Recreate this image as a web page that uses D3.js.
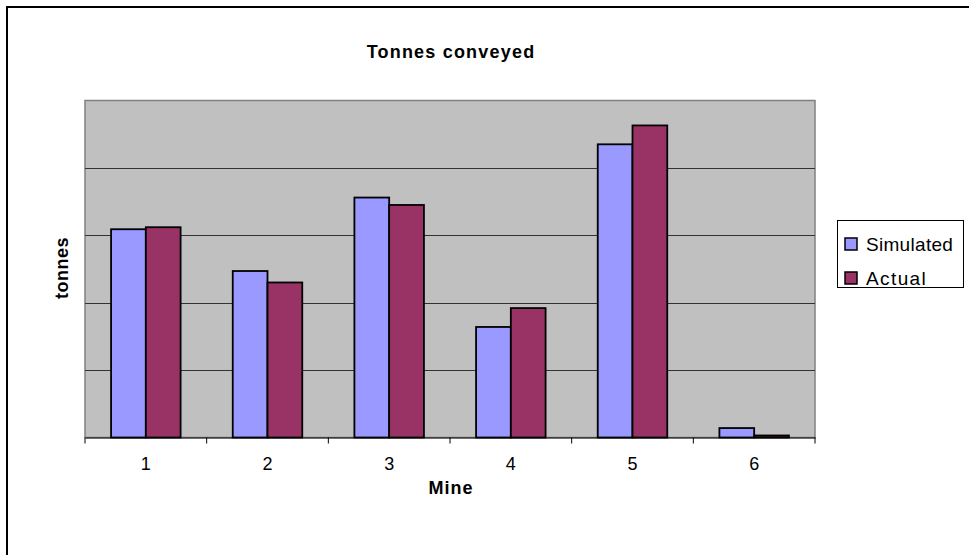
<!DOCTYPE html>
<html>
<head>
<meta charset="utf-8">
<script src="https://cdn.jsdelivr.net/npm/d3@7"></script>
<style>
  body { margin: 0; background: #fff; }
  text { font-family: "Liberation Sans", Arial, sans-serif; }
</style>
</head>
<body>
<div id="chart-area"></div>
<script>
// values (no y labels shown, so units are grid steps)
let mines = ["1", "2", "3", "4", "5", "6"];
let simulated = [3.09, 2.47, 3.56, 1.64, 4.35, 0.14];
let actual = [3.12, 2.30, 3.45, 1.92, 4.63, 0.03];
let seriesNames = ["Simulated", "Actual"];
let seriesColors = ["#9999ff", "#993366"];
let gridSteps = [0, 1, 2, 3, 4, 5];

const width = 969, height = 555;
const plot = {left: 85, top: 100.5, right: 815, bottom: 437.5};

let svg = d3.select("#chart-area").append("svg")
  .attr("width", width).attr("height", height);

// outer chart border (only top/left visible in the picture)
svg.append("rect").attr("x", 7).attr("y", 7).attr("width", 1000).attr("height", 600)
  .attr("fill", "#fff").attr("stroke", "#000").attr("stroke-width", 2);

let x = d3.scaleBand().domain(mines).range([plot.left, plot.right]);
// excel gap width 150% -> two bars of 1/3.5 each
let barW = x.bandwidth() / 3.5;
let y = d3.scaleLinear().domain([0, 5]).range([plot.bottom, plot.top]);

svg.append("rect").attr("x", plot.left).attr("y", plot.top)
  .attr("width", plot.right - plot.left).attr("height", plot.bottom - plot.top)
  .attr("fill", "#c0c0c0").attr("stroke", "#808080").attr("stroke-width", 1.5);

svg.selectAll(".grid").data(gridSteps.slice(1, -1)).enter().append("line")
  .attr("x1", plot.left).attr("x2", plot.right)
  .attr("y1", d => Math.round(y(d)) + 0.5).attr("y2", d => Math.round(y(d)) + 0.5)
  .attr("stroke", "#333").attr("stroke-width", 1);

let data = mines.map((m, i) => ({mine: m, vals: [simulated[i], actual[i]]}));

let groups = svg.selectAll(".grp").data(data).enter().append("g")
  .attr("transform", d => `translate(${x(d.mine) + (x.bandwidth() - 2 * barW) / 2},0)`);

groups.selectAll("rect").data(d => d.vals).enter().append("rect")
  .attr("x", (d, i) => i * barW)
  .attr("y", d => y(d))
  .attr("width", barW)
  .attr("height", d => y(0) - y(d))
  .attr("fill", (d, i) => seriesColors[i])
  .attr("stroke", "#000").attr("stroke-width", 1.8);

// x axis
let xAxis = d3.axisBottom(x).tickSize(0).tickPadding(20);
let gx = svg.append("g").attr("transform", `translate(0,${plot.bottom})`).call(xAxis);
gx.select(".domain").attr("stroke", "#000").attr("stroke-width", 1.2);
gx.selectAll("text").attr("font-size", 18).attr("fill", "#000")
  .style("font-family", "Liberation Sans, Arial, sans-serif");
// tick marks at category borders
let borders = mines.map(m => x(m)).concat([plot.right]);
svg.selectAll(".tk").data(borders).enter().append("line")
  .attr("x1", d => d).attr("x2", d => d)
  .attr("y1", plot.bottom).attr("y2", plot.bottom + 6)
  .attr("stroke", "#000").attr("stroke-width", 1);

// titles
svg.append("text").attr("x", 451).attr("y", 58).attr("text-anchor", "middle")
  .attr("font-size", 18).attr("font-weight", "bold").attr("letter-spacing", 1.2)
  .text("Tonnes conveyed");
svg.append("text").attr("x", 451).attr("y", 494).attr("text-anchor", "middle")
  .attr("font-size", 18).attr("font-weight", "bold").attr("letter-spacing", 1)
  .text("Mine");
svg.append("text").attr("transform", "translate(68,268) rotate(-90)").attr("text-anchor", "middle")
  .attr("font-size", 18).attr("font-weight", "bold").attr("letter-spacing", 0.5)
  .text("tonnes");

// legend
let lg = svg.append("g");
lg.append("rect").attr("x", 837.5).attr("y", 220.5).attr("width", 126).attr("height", 67)
  .attr("fill", "#fff").attr("stroke", "#000").attr("stroke-width", 1);
let li = lg.selectAll(".li").data(seriesNames).enter().append("g")
  .attr("transform", (d, i) => `translate(0,${i * 34})`);
li.append("rect").attr("x", 845).attr("y", 238).attr("width", 12).attr("height", 12)
  .attr("fill", (d, i) => seriesColors[i]).attr("stroke", "#000").attr("stroke-width", 1.5);
li.append("text").attr("x", 866).attr("y", 251).attr("font-size", 19)
  .attr("letter-spacing", (d, i) => i == 1 ? 1.4 : 0.3)
  .text(d => d);
</script>
</body>
</html>
